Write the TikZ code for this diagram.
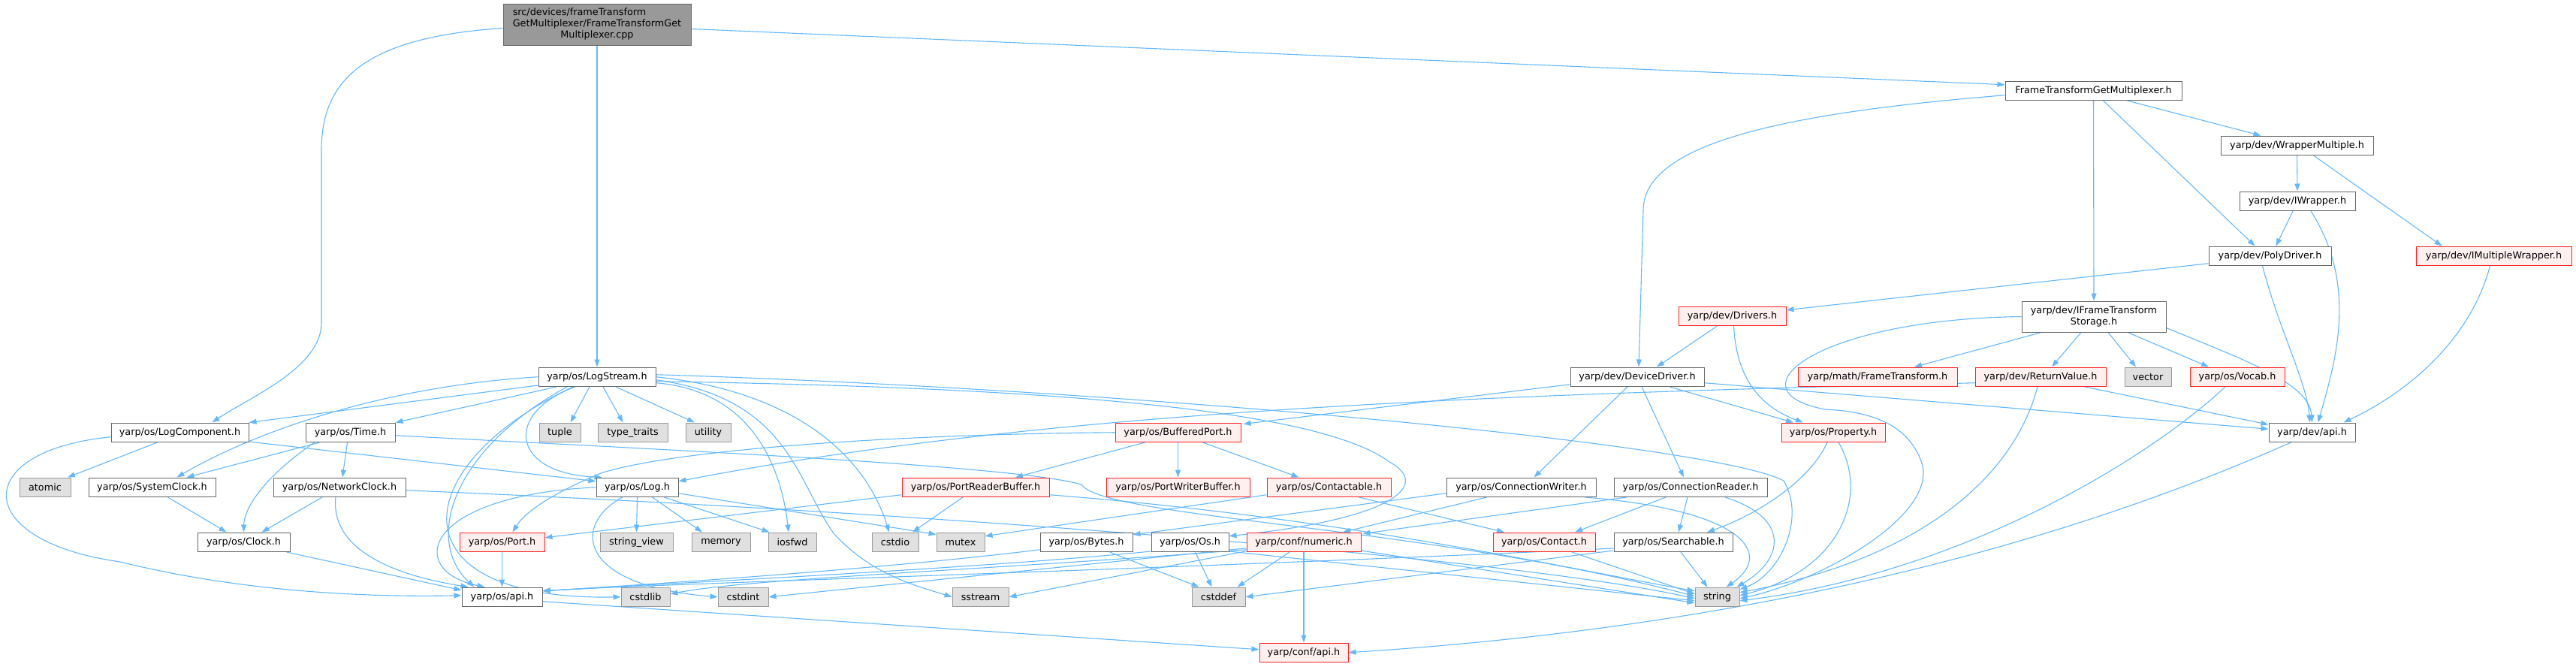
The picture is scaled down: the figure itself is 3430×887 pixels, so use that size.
\documentclass[tikz,border=0pt]{standalone}
\usepackage{fontspec}
\setmainfont{DejaVu Sans}
\usetikzlibrary{arrows.meta,calc}
\definecolor{edgec}{HTML}{63B8FF}
\definecolor{bdgray}{HTML}{666666}
\definecolor{redbd}{HTML}{FF2020}
\definecolor{redfill}{HTML}{FFF0F0}
\definecolor{extfill}{HTML}{E0E0E0}
\definecolor{extbd}{HTML}{999999}
\definecolor{rootfill}{HTML}{999999}
\pgfdeclarelayer{bg}
\pgfsetlayers{bg,main}
\tikzset{
  box/.style={draw=bdgray, fill=white, line width=1pt, inner sep=0pt, minimum height=25.5pt, font=\fontsize{12.8pt}{15pt}\selectfont},
  rbox/.style={box, draw=redbd, fill=redfill},
  gbox/.style={box, draw=extbd, fill=extfill},
  rootbox/.style={box, draw=bdgray, fill=rootfill},
  ed/.style={draw=edgec, line width=1.1pt, -{Triangle[length=10pt,width=7pt]}}
}
\begin{document}
\begin{tikzpicture}[x=1pt,y=-1pt]
\path[use as bounding box] (0,0) rectangle (3430,887);
% ---------- nodes ----------
\node[rootbox, minimum width=250pt, minimum height=55pt] (root) at (795,32.5)
  {\begin{tabular}{@{}l@{}}src/devices/frameTransform\\GetMultiplexer/FrameTransformGet\\\multicolumn{1}{@{}c@{}}{Multiplexer.cpp}\end{tabular}};
\node[box, minimum width=235pt] (ftgm) at (2787.5,120.75) {FrameTransformGetMultiplexer.h};
\node[box, minimum width=203pt] (wmult) at (3058.5,193.75) {yarp/dev/WrapperMultiple.h};
\node[box, minimum width=154pt] (iwrap) at (3059,267.75) {yarp/dev/IWrapper.h};
\node[box, minimum width=163pt] (poly) at (3022.5,340.75) {yarp/dev/PolyDriver.h};
\node[rbox, minimum width=207pt] (imw) at (3320.5,340.75) {yarp/dev/IMultipleWrapper.h};
\node[rbox, minimum width=143pt] (drivers) at (2306.5,420.75) {yarp/dev/Drivers.h};
\node[box, minimum width=192pt, minimum height=41pt, align=center] (ifts) at (2788,421.5) {yarp/dev/IFrameTransform\\Storage.h};
% row 489
\node[box, minimum width=156pt] (logstream) at (795,501.75) {yarp/os/LogStream.h};
\node[box, minimum width=178pt] (devdrv) at (2180,501.75) {yarp/dev/DeviceDriver.h};
\node[rbox, minimum width=212pt] (mft) at (2500,501.75) {yarp/math/FrameTransform.h};
\node[rbox, minimum width=174pt] (retval) at (2717,501.75) {yarp/dev/ReturnValue.h};
\node[gbox, minimum width=62pt] (vector) at (2860,501.75) {vector};
\node[rbox, minimum width=126pt] (vocab) at (2979,501.75) {yarp/os/Vocab.h};
% row 563
\node[box, minimum width=183pt] (logcomp) at (239.5,575.75) {yarp/os/LogComponent.h};
\node[box, minimum width=119pt] (time) at (466.5,575.75) {yarp/os/Time.h};
\node[gbox, minimum width=55pt] (tuple) at (745.5,575.75) {tuple};
\node[gbox, minimum width=93pt] (typetraits) at (842.5,575.75) {type\_traits};
\node[gbox, minimum width=60pt] (utility) at (943,575.75) {utility};
\node[rbox, minimum width=167pt] (bport) at (1568.5,575.75) {yarp/os/BufferedPort.h};
\node[rbox, minimum width=138pt] (prop) at (2441,575.75) {yarp/os/Property.h};
\node[box, minimum width=115pt] (devapi) at (3078.5,575.75) {yarp/dev/api.h};
% row 636
\node[gbox, minimum width=68pt] (atomic) at (60,648.75) {atomic};
\node[box, minimum width=169pt] (sysclock) at (202.5,648.75) {yarp/os/SystemClock.h};
\node[box, minimum width=176pt] (netclock) at (452,648.75) {yarp/os/NetworkClock.h};
\node[box, minimum width=109pt] (log) at (848.5,648.75) {yarp/os/Log.h};
\node[rbox, minimum width=196pt] (prb) at (1299,648.75) {yarp/os/PortReaderBuffer.h};
\node[rbox, minimum width=191pt] (pwb) at (1568.5,648.75) {yarp/os/PortWriterBuffer.h};
\node[rbox, minimum width=165pt] (contactable) at (1769.5,648.75) {yarp/os/Contactable.h};
\node[box, minimum width=199pt] (cwriter) at (2025.5,648.75) {yarp/os/ConnectionWriter.h};
\node[box, minimum width=204pt] (creader) at (2251,648.75) {yarp/os/ConnectionReader.h};
% row 709
\node[box, minimum width=123pt] (clock) at (324.5,721.75) {yarp/os/Clock.h};
\node[rbox, minimum width=113pt] (port) at (668.5,721.75) {yarp/os/Port.h};
\node[gbox, minimum width=97pt] (stringview) at (847.5,721.75) {string\_view};
\node[gbox, minimum width=78pt] (memory) at (960,721.75) {memory};
\node[gbox, minimum width=64pt] (iosfwd) at (1055,721.75) {iosfwd};
\node[gbox, minimum width=62pt] (cstdio) at (1192,721.75) {cstdio};
\node[gbox, minimum width=64pt] (mutex) at (1279,721.75) {mutex};
\node[box, minimum width=123pt] (bytes) at (1446.5,721.75) {yarp/os/Bytes.h};
\node[box, minimum width=103pt] (os) at (1584.5,721.75) {yarp/os/Os.h};
\node[rbox, minimum width=152pt] (numeric) at (1736,721.75) {yarp/conf/numeric.h};
\node[rbox, minimum width=136pt] (contact) at (2056,721.75) {yarp/os/Contact.h};
\node[box, minimum width=158pt] (searchable) at (2228,721.75) {yarp/os/Searchable.h};
% row 782
\node[box, minimum width=107pt] (osapi) at (668.5,794.75) {yarp/os/api.h};
\node[gbox, minimum width=65pt] (cstdlib) at (859.5,794.75) {cstdlib};
\node[gbox, minimum width=67pt] (cstdint) at (989.5,794.75) {cstdint};
\node[gbox, minimum width=75pt] (sstream) at (1305.5,794.75) {sstream};
\node[gbox, minimum width=71pt] (cstddef) at (1622.5,794.75) {cstddef};
\node[gbox, minimum width=59pt] (string) at (2286.5,794.75) {string};
\node[rbox, minimum width=118pt] (confapi) at (1736,868.75) {yarp/conf/api.h};
% ---------- edges ----------
\begin{pgfonlayer}{bg}
% root
\draw[ed] (root.south) -- (logstream.north);
\draw[ed] ($(root.east)+(0,6)$) -- ($(ftgm.west)+(0,-8)$);
\draw[ed] ($(root.west)+(0,5)$) .. controls (480,50) and (428,110) .. (428,200) -- (428,430) .. controls (428,490) and (330,530) .. ($(logcomp.north)+(43,0)$);
% FrameTransformGetMultiplexer.h
\draw[ed] ($(ftgm.west)+(0,6)$) .. controls (2380,150) and (2188,190) .. (2188,280) -- ($(devdrv.north)+(2,0)$);
\draw[ed] (ftgm.south) -- (ifts.north);
\draw[ed] ($(ftgm.south)+(13,0)$) -- ($(poly.north)+(-20,0)$);
\draw[ed] ($(ftgm.south)+(45,0)$) -- ($(wmult.north)+(-48,0)$);
\draw[ed] (wmult.south) -- (iwrap.north);
\draw[ed] ($(wmult.south)+(22,0)$) -- ($(imw.north)+(-69,0)$);
\draw[ed] ($(iwrap.south)+(-6,0)$) -- ($(poly.north)+(8,0)$);
\draw[ed] ($(iwrap.south)+(18,0)$) .. controls (3140,380) and (3110,480) .. ($(devapi.north)+(8,0)$);
\draw[ed] ($(poly.west)+(0,10)$) -- ($(drivers.east)+(0,-8)$);
\draw[ed] ($(poly.south)+(-10,0)$) .. controls (3035,440) and (3072,510) .. ($(devapi.north)+(-3,0)$);
\draw[ed] ($(imw.south)+(-5,0)$) .. controls (3290,450) and (3210,520) .. ($(devapi.north)+(42,0)$);
\draw[ed] ($(drivers.south)+(-20,0)$) -- ($(devdrv.north)+(26,0)$);
\draw[ed] ($(drivers.south)+(2,0)$) .. controls (2312,500) and (2340,540) .. ($(prop.north)+(-40,0)$);
% IFrameTransformStorage.h
\draw[ed] ($(ifts.south)+(-70,0)$) -- ($(mft.north)+(49,0)$);
\draw[ed] ($(ifts.south)+(-17,0)$) -- ($(retval.north)+(15,0)$);
\draw[ed] ($(ifts.south)+(19,0)$) -- ($(vector.north)+(-16,0)$);
\draw[ed] ($(ifts.south)+(45,0)$) -- ($(vocab.north)+(-38,0)$);
\draw[ed] ($(ifts.east)+(0,15)$) .. controls (2990,480) and (3075,510) .. (devapi.north);
\draw[ed] (ifts.west) .. controls (2420,425) and (2300,520) .. (2430,545) .. controls (2500,548) and (2545,570) .. (2560,620) .. controls (2575,690) and (2420,775) .. ($(string.east)+(0,2)$);
% ReturnValue.h / Vocab.h
\draw[ed] ($(retval.west)+(0,8)$) .. controls (2000,525) and (1400,545) .. ($(log.east)+(0,-8)$);
\draw[ed] ($(retval.south)+(59,0)$) -- ($(devapi.west)+(0,-10.5)$);
\draw[ed] ($(retval.south)+(-4,0)$) .. controls (2680,640) and (2550,745) .. ($(string.east)+(0,-6)$);
\draw[ed] ($(vocab.south)+(-16,0)$) .. controls (2850,620) and (2600,765) .. ($(string.east)+(0,5)$);
% DeviceDriver.h
\draw[ed] ($(devdrv.west)+(0,10)$) -- ($(bport.north east)+(3,2)$);
\draw[ed] ($(devdrv.east)+(0,8)$) -- ($(devapi.west)+(0,-4.5)$);
\draw[ed] ($(devdrv.south)+(43,0)$) -- ($(prop.north)+(-53,0)$);
\draw[ed] ($(devdrv.south)+(-13,0)$) -- ($(cwriter.north)+(17,0)$);
\draw[ed] ($(devdrv.south)+(6,0)$) -- ($(creader.north)+(-9,0)$);
% BufferedPort.h
\draw[ed] ($(bport.south)+(-44,0)$) -- ($(prb.north)+(53,0)$);
\draw[ed] (bport.south) -- (pwb.north);
\draw[ed] ($(bport.south)+(33,0)$) -- ($(contactable.north)+(-40,0)$);
\draw[ed] (bport.west) .. controls (1200,578) and (900,598) .. (800,630) .. controls (740,655) and (700,680) .. ($(port.north)+(14,0)$);
% PortReaderBuffer.h / Contactable.h
\draw[ed] ($(prb.south)+(-17,0)$) -- ($(cstdio.north)+(23,0)$);
\draw[ed] ($(prb.west)+(0,10)$) -- ($(port.east)+(0,-6)$);
\draw[ed] ($(prb.east)+(0,10)$) .. controls (1800,690) and (2100,760) .. ($(string.west)+(0,-8)$);
\draw[ed] ($(contactable.west)+(0,10)$) -- ($(mutex.east)+(0,-8)$);
\draw[ed] ($(contactable.south)+(40,0)$) -- ($(contact.north)+(-53,0)$);
% ConnectionWriter.h / ConnectionReader.h
\draw[ed] ($(cwriter.west)+(0,8)$) -- ($(bytes.east)+(0,-10)$);
\draw[ed] ($(cwriter.south)+(-46,0)$) -- ($(numeric.north)+(52,0)$);
\draw[ed] ($(cwriter.south)+(85,0)$) .. controls (2330,680) and (2360,740) .. ($(string.north)+(12,0)$);
\draw[ed] ($(creader.south)+(-85,0)$) -- ($(numeric.north east)+(2,2)$);
\draw[ed] ($(creader.south)+(-33,0)$) -- ($(contact.north)+(41,0)$);
\draw[ed] ($(creader.south)+(-4,0)$) -- ($(searchable.north)+(7,0)$);
\draw[ed] ($(creader.south)+(46,0)$) .. controls (2385,690) and (2375,745) .. ($(string.north east)+(-4,0)$);
% Contact.h / Searchable.h / Property.h
\draw[ed] ($(contact.south)+(37,0)$) -- ($(string.west)+(0,-4)$);
\draw[ed] ($(searchable.south)+(10,0)$) -- ($(string.north)+(-13,0)$);
\draw[ed] ($(searchable.south west)+(0,-2)$) -- (cstddef.east);
\draw[ed] ($(searchable.south west)+(0,-5)$) .. controls (1500,760) and (900,776) .. ($(osapi.east)+(0,-8)$);
\draw[ed] ($(prop.south)+(-8,0)$) .. controls (2410,640) and (2340,685) .. ($(searchable.north)+(45,0)$);
\draw[ed] ($(prop.south)+(7,0)$) .. controls (2490,660) and (2450,760) .. ($(string.east)+(0,-2)$);
% Os.h / Bytes.h / numeric.h
\draw[ed] ($(os.south)+(7,0)$) -- ($(cstddef.north)+(-9,0)$);
\draw[ed] ($(os.south west)+(0,-1)$) .. controls (1300,757) and (900,776) .. ($(osapi.east)+(0,-8)$);
\draw[ed] ($(os.south east)+(0,-1)$) -- ($(string.west)+(0,5)$);
\draw[ed] ($(bytes.south)+(31,0)$) -- ($(cstddef.north west)+(10,0)$);
\draw[ed] ($(bytes.west)+(0,10)$) .. controls (1200,755) and (900,776) .. ($(osapi.east)+(0,-8)$);
\draw[ed] ($(numeric.south)+(-19,0)$) -- ($(cstddef.north)+(25,0)$);
\draw[ed] (numeric.south) -- (confapi.north);
\draw[ed] ($(numeric.south east)+(0,-2)$) -- ($(string.west)+(0,8)$);
\draw[ed] ($(numeric.west)+(0,8)$) -- (cstdint.east);
\draw[ed] ($(numeric.west)+(0,10)$) .. controls (1300,760) and (1000,770) .. ($(cstdlib.east)+(0,-4)$);
\draw[ed] ($(numeric.west)+(0,12)$) -- (sstream.east);
% LogStream.h
\draw[ed] ($(logstream.south west)+(0,-2)$) -- (logcomp.north east);
\draw[ed] (logstream.west) .. controls (500,515) and (330,580) .. ($(sysclock.north)+(33,0)$);
\draw[ed] ($(logstream.south)+(-54,0)$) -- (time.north east);
\draw[ed] ($(logstream.south)+(-10,0)$) -- ($(tuple.north)+(14,0)$);
\draw[ed] ($(logstream.south)+(8,0)$) -- ($(typetraits.north)+(-13,0)$);
\draw[ed] ($(logstream.south)+(25,0)$) -- ($(utility.north)+(-18,0)$);
\draw[ed] ($(logstream.south)+(-29,0)$) .. controls (670,550) and (680,630) .. ($(log.north west)+(8,0)$);
\draw[ed] ($(logstream.south)+(-40,0)$) .. controls (600,600) and (565,720) .. ($(osapi.north)+(-37,0)$);
\draw[ed] ($(logstream.south)+(-32,0)$) .. controls (540,620) and (520,800) .. (cstdlib.west);
\draw[ed] (logstream.east) .. controls (1050,520) and (1150,600) .. ($(cstdio.north)+(-8,0)$);
\draw[ed] ($(logstream.east)+(0,8)$) .. controls (1000,520) and (1040,620) .. ($(iosfwd.north)+(-5,0)$);
\draw[ed] ($(logstream.east)+(0,4)$) .. controls (1050,530) and (1060,640) .. (1110,710) .. controls (1160,765) and (1220,780) .. (sstream.west);
\draw[ed] ($(logstream.east)+(0,-3)$) .. controls (1500,518) and (2280,590) .. (2375,640) .. controls (2405,690) and (2370,765) .. ($(string.east)+(0,-10)$);
\draw[ed] ($(logstream.east)+(0,6)$) .. controls (1350,515) and (1750,540) .. (1850,615) .. controls (1905,645) and (1860,690) .. ($(os.east)+(0,-8)$);
% LogComponent.h
\draw[ed] ($(logcomp.south)+(-30,0)$) -- ($(atomic.north)+(30,0)$);
\draw[ed] ($(logcomp.south east)+(0,-1)$) -- ($(log.west)+(0,-8)$);
\draw[ed] ($(logcomp.west)+(0,6)$) .. controls (-40,600) and (-40,720) .. (160,748) .. controls (330,790) and (500,795) .. ($(osapi.west)+(0,-2)$);
% Time.h / clocks
\draw[ed] ($(time.south)+(-41,0)$) -- ($(sysclock.north)+(46,0)$);
\draw[ed] ($(time.south)+(-48,0)$) .. controls (345,640) and (325,680) .. (clock.north);
\draw[ed] ($(time.south)+(-4,0)$) -- ($(netclock.north)+(4,0)$);
\draw[ed] ($(time.east)+(0,4)$) .. controls (926,601) and (1350,620) .. (1440,645) .. controls (1470,690) and (1900,700) .. ($(string.west)+(0,-1)$);
\draw[ed] ($(sysclock.south)+(21,0)$) -- ($(clock.north)+(-23,0)$);
\draw[ed] ($(netclock.south)+(-23,0)$) -- ($(clock.north)+(24,0)$);
\draw[ed] ($(netclock.south)+(-5,0)$) .. controls (440,730) and (520,765) .. ($(osapi.north)+(-45,0)$);
\draw[ed] ($(netclock.east)+(0,4)$) .. controls (1200,680) and (2000,740) .. ($(string.west)+(0,2)$);
\draw[ed] ($(clock.south east)+(-5,0)$) -- ($(osapi.west)+(0,-9)$);
% Log.h
\draw[ed] (log.south) -- (stringview.north);
\draw[ed] ($(log.south)+(20,0)$) -- ($(memory.north)+(-25,0)$);
\draw[ed] ($(log.south)+(36,0)$) -- ($(iosfwd.north west)+(2,0)$);
\draw[ed] ($(log.south)+(-20,0)$) .. controls (760,700) and (770,780) .. (cstdint.west);
\draw[ed] (log.west) .. controls (560,660) and (540,760) .. ($(osapi.north)+(-23,0)$);
\draw[ed] ($(log.east)+(0,8)$) -- ($(mutex.north west)+(0,3)$);
% api headers
\draw[ed] (port.south) -- (osapi.north);
\draw[ed] ($(osapi.east)+(0,6)$) -- ($(confapi.west)+(0,-4)$);
\draw[ed] ($(devapi.south)+(-28,0)$) .. controls (2800,700) and (2400,830) .. (confapi.east);
\end{pgfonlayer}
\end{tikzpicture}
\end{document}
